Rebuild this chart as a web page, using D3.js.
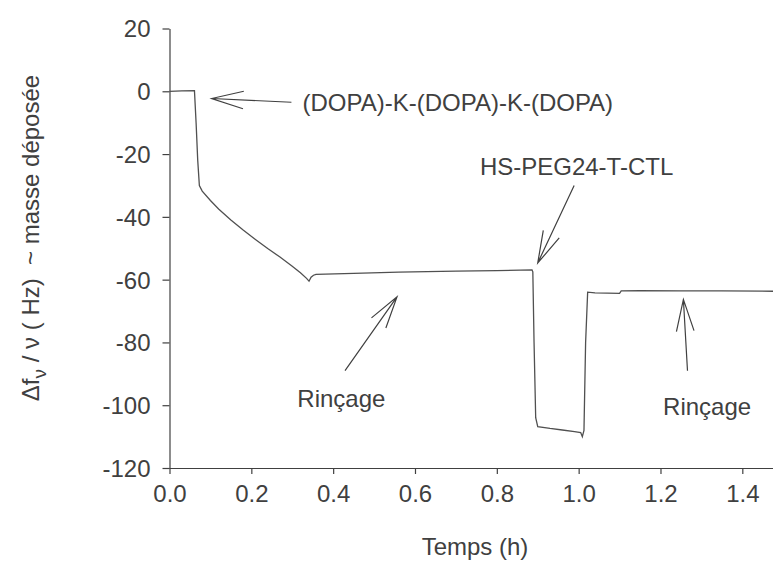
<!DOCTYPE html>
<html>
<head>
<meta charset="utf-8">
<script src="https://cdn.jsdelivr.net/npm/d3@7"></script>
<style>
  body { margin: 0; background: #fff; }
  svg text { font-family: Arial, "Liberation Sans", sans-serif; fill: #404040; white-space: pre; }
</style>
</head>
<body>
<svg width="773" height="565"></svg>
<script>
// QCM trace
let temps = [0.0, 0.03, 0.061, 0.065, 0.069, 0.073, 0.08, 0.10, 0.12, 0.15, 0.18, 0.21, 0.24, 0.27, 0.30, 0.32, 0.335, 0.341,
             0.346, 0.352, 0.358, 0.45, 0.56, 0.70, 0.80, 0.886, 0.888, 0.891, 0.895, 0.90, 0.93, 0.96, 0.99, 1.005, 1.009,
             1.013, 1.017, 1.022, 1.04, 1.07, 1.10, 1.104, 1.15, 1.25, 1.35, 1.475]
let df = [0.0, 0.1, 0.2, -10, -22, -30, -31.8, -34.8, -37.5, -41, -44.2, -47.2, -50.1, -52.8, -55.7, -57.8, -59.6, -60.5,
          -59.2, -58.6, -58.3, -58.0, -57.6, -57.3, -57.1, -56.9, -57.5, -80, -104, -106.8, -107.4, -107.9, -108.4, -108.7, -110,
          -108, -80, -64, -64.2, -64.3, -64.4, -63.6, -63.5, -63.6, -63.6, -63.7]

let xTicks = [0, 0.2, 0.4, 0.6, 0.8, 1.0, 1.2, 1.4]
let yTicks = [20, 0, -20, -40, -60, -80, -100, -120]

// annotations: label text, label position (data units), arrow tail -> tip (data units)
let notes = [
  {label: "(DOPA)-K-(DOPA)-K-(DOPA)", lx: 0.325, ly: -3.5, anchor: "start", tail: [0.298, -3.5], tip: [0.103, -2.3]},
  {label: "HS-PEG24-T-CTL", lx: 0.995, ly: -24, anchor: "middle", tail: [0.989, -30], tip: [0.9, -54.7]},
  {label: "Rinçage", lx: 0.42, ly: -98, anchor: "middle", tail: [0.429, -89], tip: [0.556, -65.5]},
  {label: "Rinçage", lx: 1.314, ly: -100.5, anchor: "middle", tail: [1.266, -89], tip: [1.256, -66.3]}
]

let svg = d3.select("svg")
let x = d3.scaleLinear().domain([0, 1.475]).range([169.5, 773])
let y = d3.scaleLinear().domain([-120, 20]).range([468, 28.5])
let ink = "#404040"
let fs = 24

// axes
let xAxis = svg.append("g").attr("transform", "translate(0,468)")
  .call(d3.axisBottom(x).tickValues(xTicks).tickFormat(d3.format(".1f")).tickSizeInner(6).tickSizeOuter(0).tickPadding(11))
let yAxis = svg.append("g").attr("transform", "translate(169.5,0)")
  .call(d3.axisLeft(y).tickValues(yTicks).tickFormat(d => String(d)).tickSizeInner(7).tickSizeOuter(0).tickPadding(12))
;[xAxis, yAxis].forEach(g => {
  g.selectAll("path, line").attr("stroke", ink).attr("stroke-width", 1.2)
  g.selectAll("text").attr("font-size", fs).attr("fill", ink)
})
yAxis.selectAll("text").attr("dy", "0.35em")
xAxis.select(".domain").attr("d", "M169.5,0.5H773")

// trace
let pts = temps.map((t, i) => [t, df[i]])
svg.append("path")
  .datum(pts)
  .attr("fill", "none")
  .attr("stroke", "#505050")
  .attr("stroke-width", 1.3)
  .attr("d", d3.line().x(d => x(d[0])).y(d => y(d[1])))

// axis titles
svg.append("text")
  .attr("x", 475).attr("y", 555)
  .attr("text-anchor", "middle")
  .attr("font-size", fs)
  .text("Temps (h)")

let yt = svg.append("text")
  .attr("transform", "translate(39,238) rotate(-90)")
  .attr("text-anchor", "middle")
  .attr("font-size", fs)
yt.append("tspan").text("\u0394f")
yt.append("tspan").attr("dy", 7).attr("font-size", 19).text("\u03bd")
yt.append("tspan").attr("dy", -7).text(" / \u03bd ( Hz)  ~ masse d\u00e9pos\u00e9e")

// annotations
notes.forEach(n => {
  svg.append("text")
    .attr("x", x(n.lx)).attr("y", y(n.ly))
    .attr("dy", "0.35em")
    .attr("text-anchor", n.anchor)
    .attr("font-size", fs)
    .text(n.label)

  let x0 = x(n.tail[0]), y0 = y(n.tail[1]), x1 = x(n.tip[0]), y1 = y(n.tip[1])
  let a = Math.atan2(y1 - y0, x1 - x0), len = 33, spread = 0.27
  let h1 = [x1 - len * Math.cos(a - spread), y1 - len * Math.sin(a - spread)]
  let h2 = [x1 - len * Math.cos(a + spread), y1 - len * Math.sin(a + spread)]
  svg.append("path")
    .attr("fill", "none")
    .attr("stroke", ink)
    .attr("stroke-width", 1.2)
    .attr("d", `M${x0},${y0}L${x1},${y1}M${h1[0]},${h1[1]}L${x1},${y1}L${h2[0]},${h2[1]}`)
})
</script>
</body>
</html>
